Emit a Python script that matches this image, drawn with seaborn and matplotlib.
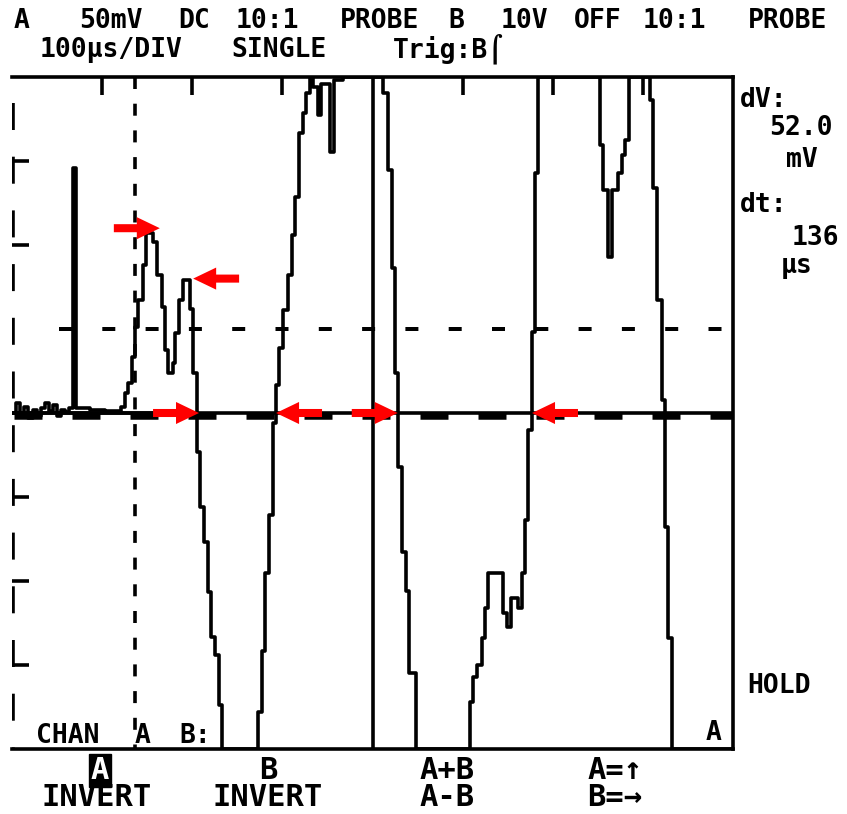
import numpy as np
import matplotlib
matplotlib.use("Agg")
import matplotlib.pyplot as plt
import seaborn as sns

# ---- data (100 us/div) ----
# channel B, 10 V/div, clipped at +-40 V by the screen
b_time = [0, 205, 209, 213, 217.5, 221, 225, 230, 233, 273, 277, 281, 285, 290,
          293, 296, 301, 306, 311, 314, 318.5, 323, 326, 331, 334, 339.5, 343.4,
          352.9, 356.8, 367, 412, 417, 421.5, 425, 428, 433, 437, 440.5, 448, 508,
          511.5, 516, 521.5, 525, 528, 545, 549, 554, 561.5, 566, 569, 572.5,
          577, 580, 583.5, 652, 656, 661.3, 665.2, 672.5, 677, 680, 684.5, 708, 711,
          716, 721, 724.5, 728, 732, 800]
b_volts = [0, -4.6, -11.2, -15.4, -21.3, -26.7, -28.8, -34.8, -40, -35.6, -28.3,
           -19.0, -12.1, -1.2, 3.3, 7.7, 12.3, 16.4, 21.2, 25.7, 33.3, 35.7, 38.1,
           40, 38.8, 35.5, 39.2, 31.1, 39.6, 40, 38.1, 28.9, 17.3, 4.8, -6.4,
           -16.5, -21.2, -31.0, -40, -34.4, -31.4, -30.0, -26.8, -23.2, -19.0,
           -23.8, -25.5, -22.0, -23.2, -19.0, -12.7, -2.0, 9.6, 28.6, 40, 31.9,
           26.5, 18.6, 26.5, 28.6, 30.7, 32.5, 40, 37.3, 26.8, 13.5, 1.5, -13.6,
           -26.8, -40, -40]

# channel A, 50 mV/div
a_time = [0, 4.4, 9, 13.3, 17.8, 23.3, 27.7, 32.2, 36.6, 41, 45.5, 50, 54.4, 58.8,
          63.2, 67.7, 71.5, 86.5, 103, 121, 125.4, 128.7, 133.2, 136.5, 139.8,
          145.4, 148.7, 156.5, 161, 166.4, 169.8, 173, 178.6, 181, 185.3, 189.7,
          197.5, 200.8, 205.3]
a_mv = [0, 6.0, 0, 3.6, -3.0, 1.8, -1.8, 3.0, 6.0, 1.2, 4.8, -1.8, 1.8, 0.6, 3.0,
        146, 3.0, 1.8, 1.2, 3.6, 11.9, 17.9, 33.3, 51.2, 67.3, 88.1, 107, 101.8,
        82.1, 63.1, 37.5, 23.8, 29.8, 47.6, 67.3, 79.2, 61.9, 23.8, 0]

cursor_dashed_us = 136
cursor_solid_us = 400

# red markers: tip position (us, div) and pointing direction
arrow_time = [164, 201, 207.5, 293, 428, 577]
arrow_div = [2.2, 1.6, 0, 0, 0, 0]
arrow_dir = [1, -1, 1, -1, 1, -1]

header1 = [("A", 22), ("50mV", 111), ("DC", 194), ("10:1", 267), ("PROBE", 380),
           ("B", 456), ("10V", 524), ("OFF", 598), ("10:1", 674), ("PROBE", 788)]
header2 = [("100\u00b5s/DIV", 111), ("SINGLE", 279), ("Trig:B\u2320", 448)]
readout = [("dV:", 764, 107), ("52.0", 801, 135), ("mV", 802, 167),
           ("dt:", 764, 212), ("136", 815, 245), ("\u00b5s", 797, 273),
           ("HOLD", 779, 693)]
menu = [("B", 268, 779), ("INVERT", 97, 806), ("INVERT", 268, 806),
        ("A+B", 447, 779), ("A-B", 447, 806), ("A=\u2191", 615, 779),
        ("B=\u2192", 615, 806)]

W, H = 847, 814
PX = 0.72  # points per pixel at dpi 100

sns.set_style("white")
plt.rcParams["lines.scale_dashes"] = False
plt.rcParams["font.family"] = ["DejaVu Sans Mono", "DejaVu Sans"]

fig = plt.figure(figsize=(W / 100, H / 100), dpi=100)
fig.patch.set_facecolor("white")
ax = fig.add_axes([12 / W, 1 - 749 / H, 721 / W, 672 / H])
ax.set_xlim(0, 800)
ax.set_ylim(-4, 4)

lw = 3.6 * PX
for side in ["top", "right", "bottom"]:
    ax.spines[side].set_linewidth(lw)
    ax.spines[side].set_color("black")
ax.spines["left"].set_visible(False)

ax.set_xticks([100, 200, 300, 500, 600, 700])
ax.set_yticks([3, 2, -1, -2, -3])
ax.tick_params(axis="x", direction="in", length=18 * PX, width=lw, top=True,
               bottom=False, labeltop=False, labelbottom=False, color="black")
ax.tick_params(axis="y", direction="in", length=17 * PX, width=lw, left=True,
               right=False, labelleft=False, color="black")
ax.set_xlabel("")
ax.set_ylabel("")

# graticule / cursors
ax.axvline(1.1, ymin=1, ymax=0, color="black", lw=lw,
           linestyle=(27.7 * PX, (27 * PX, 26.7 * PX)))
ax.axvline(cursor_dashed_us, ymin=1, ymax=0, color="black", lw=lw,
           linestyle=(0, (12 * PX, 14.7 * PX)))
ax.axvline(cursor_solid_us, color="black", lw=lw)
ax.axhline(1, xmin=52 / 800, color="black", lw=4 * PX,
           linestyle=(0, (13 * PX, 30.3 * PX)))
ax.axhline(0, color="black", lw=lw)
ax.axhline(-0.03, color="black", lw=6.5 * PX,
           linestyle=(56 * PX, (28 * PX, 30 * PX)))

# traces
sns.lineplot(x=b_time, y=np.array(b_volts) / 10, ax=ax, color="black", lw=lw,
             drawstyle="steps-post", estimator=None, sort=False, legend=False)
sns.lineplot(x=a_time, y=np.array(a_mv) / 50, ax=ax, color="black", lw=lw,
             drawstyle="steps-post", estimator=None, sort=False, legend=False)

for t, d, s in zip(arrow_time, arrow_div, arrow_dir):
    ax.annotate("", xy=(t, d), xytext=(t - s * 51, d),
                arrowprops=dict(arrowstyle="simple,head_length=1.0,head_width=0.96,tail_width=0.35",
                                color="red", mutation_scale=23 * PX, shrinkA=0,
                                shrinkB=0, lw=0))

fs = 19
kw = dict(fontsize=fs, weight="bold", color="black")
for s, x in header1:
    fig.text(x / W, 1 - 28 / H, s, ha="center", va="baseline", **kw)
for s, x in header2:
    fig.text(x / W, 1 - 57 / H, s, ha="center", va="baseline", **kw)
for s, x, y in readout:
    fig.text(x / W, 1 - y / H, s, ha="center", va="baseline", **kw)

fig.text(68 / W, 1 - 743 / H, "CHAN", ha="center", va="baseline", **kw)
fig.text(143 / W, 1 - 743 / H, "A", ha="center", va="baseline", **kw)
fig.text(195 / W, 1 - 743 / H, "B:", ha="center", va="baseline", **kw)
fig.text(714 / W, 1 - 740 / H, "A", ha="center", va="baseline", **kw)

mkw = dict(fontsize=22, weight="bold")
fig.text(100 / W, 1 - 779 / H, "A", ha="center", va="baseline", color="white",
         bbox=dict(facecolor="black", edgecolor="black", pad=1.5), **mkw)
for s, x, y in menu:
    fig.text(x / W, 1 - y / H, s, ha="center", va="baseline", color="black", **mkw)

fig.savefig("out.png", dpi=100, facecolor="white")
